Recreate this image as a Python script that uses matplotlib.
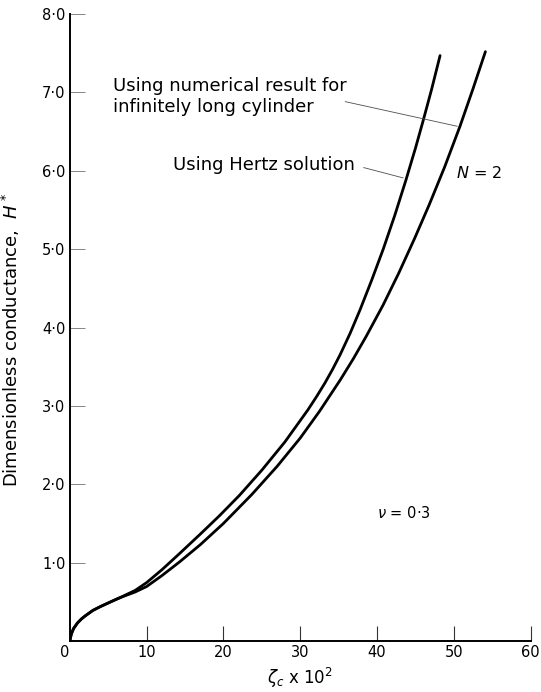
import matplotlib
matplotlib.use("Agg")
import matplotlib.pyplot as plt

zeta_hertz = [0, 0.2, 0.5, 1, 1.5, 2, 3, 4, 5, 6, 7, 8.5, 10, 12, 14.3, 17, 19.5, 22.1,
              25, 28, 31, 32.1, 33.2, 34.2, 35.2, 36.5, 37.8, 39.3, 40.8, 42.3, 43.75,
              45, 46, 47.1, 48.2]
H_hertz = [0, 0.09, 0.16, 0.23, 0.28, 0.32, 0.39, 0.44, 0.485, 0.53, 0.575, 0.645, 0.745, 0.91,
           1.117, 1.365, 1.60, 1.86, 2.18, 2.54, 2.95, 3.115, 3.29, 3.465, 3.655, 3.928, 4.23,
           4.605, 5.00, 5.43, 5.88, 6.29, 6.64, 7.04, 7.47]

zeta_num = [0, 0.2, 0.5, 1, 1.5, 2, 3, 4, 5, 6, 7, 8.5, 10, 12, 14.3, 17, 20, 23.7,
            27, 30, 32.5, 35.2, 36.9, 38.6, 40.8, 42.8, 44.9, 46.8, 48.8, 50.8, 52.5, 54.1]
H_num = [0, 0.09, 0.16, 0.23, 0.28, 0.32, 0.39, 0.44, 0.485, 0.53, 0.57, 0.625, 0.695, 0.835,
         1.01, 1.23, 1.50, 1.87, 2.23, 2.59, 2.93, 3.33, 3.60, 3.89, 4.29, 4.69, 5.14, 5.57,
         6.05, 6.57, 7.05, 7.52]

xticks = [0, 10, 20, 30, 40, 50, 60]
yticks = [1, 2, 3, 4, 5, 6, 7, 8]
ytick_labels = ["1·0", "2·0", "3·0", "4·0", "5·0", "6·0", "7·0", "8·0"]

plt.rcParams['font.family'] = ['DejaVu Sans']

fig = plt.figure(figsize=(5.41, 6.92), dpi=100)
ax = fig.add_axes([0.129, 0.0737, 0.852, 0.906])

ax.plot(zeta_hertz, H_hertz, color='black', lw=2.0, solid_capstyle='round', solid_joinstyle='round')
ax.plot(zeta_num, H_num, color='black', lw=2.0, solid_capstyle='round', solid_joinstyle='round')

ax.set_xlim(0, 60)
ax.set_ylim(0, 8)
for s in ['top', 'right']:
    ax.spines[s].set_visible(False)
for s in ['left', 'bottom']:
    ax.spines[s].set_linewidth(1.4)

ax.set_xticks(xticks)
ax.set_xticklabels([str(v) for v in xticks], fontsize=10.5)
ax.set_yticks(yticks)
ax.set_yticklabels(ytick_labels, fontsize=10.5)
ax.tick_params(axis='x', direction='in', length=11, width=0.8, color='0.2', pad=3)
ax.tick_params(axis='y', direction='in', length=11, width=0.6, color='0.45', pad=3)
ax.get_xticklabels()[0].set_ha('right')

ax.set_xlabel(r"$\zeta_c$" + " x 10$^2$", fontsize=12, labelpad=4)
ax.set_ylabel("Dimensionless conductance,  $H^*$", fontsize=13)
ax.yaxis.set_label_coords(-0.104, 0.48)

# labels with leader lines
ax.text(5.6, 6.95, "Using numerical result for\ninfinitely long cylinder",
        fontsize=13, ha='left', va='center', linespacing=1.25)
ax.annotate("", xy=(50.8, 6.56), xytext=(35.5, 6.89),
            arrowprops=dict(arrowstyle='-', color='0.3', lw=0.6))
ax.text(13.4, 6.07, "Using Hertz solution", fontsize=13, ha='left', va='center')
ax.annotate("", xy=(43.75, 5.90), xytext=(37.9, 6.05),
            arrowprops=dict(arrowstyle='-', color='0.3', lw=0.6))
ax.text(50.3, 5.97, "$N$ = 2", fontsize=11.5, ha='left', va='center')
ax.text(40.0, 1.63, r"$\nu$ = 0·3", fontsize=10.5, ha='left', va='center')

fig.savefig("out.png", dpi=100)
